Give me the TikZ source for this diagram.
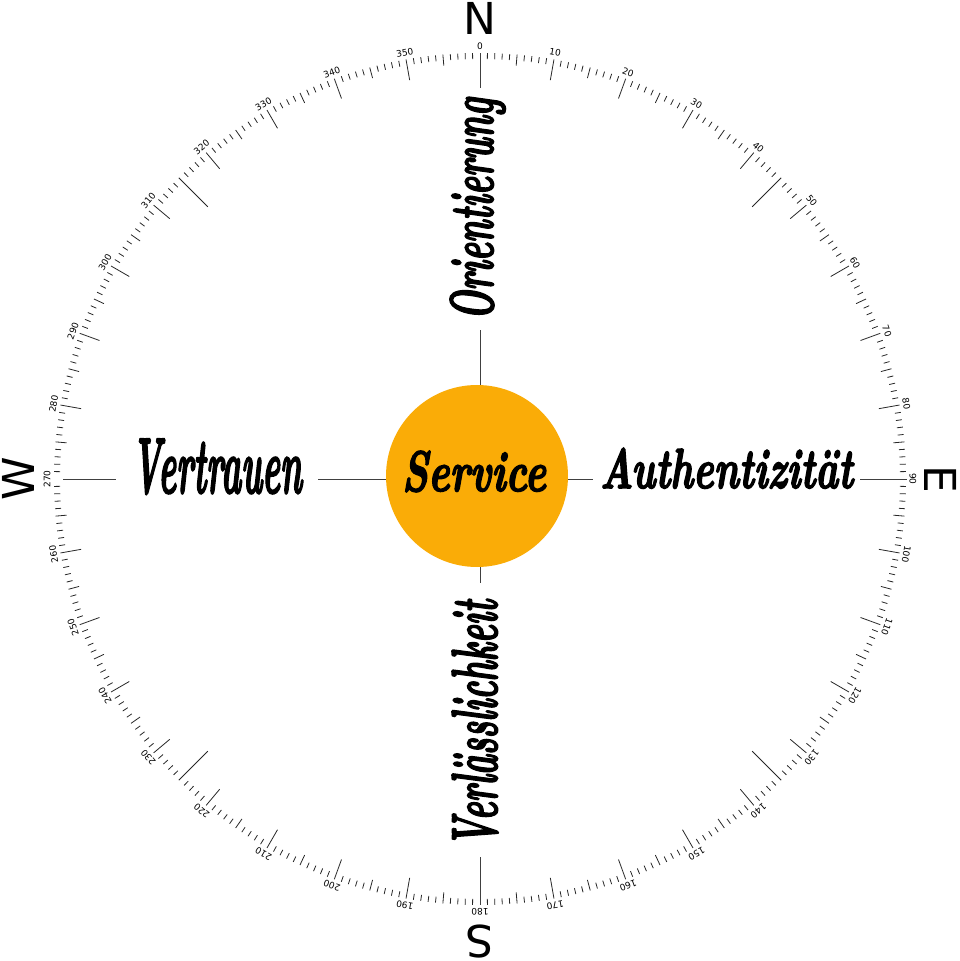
\documentclass[tikz,border=0pt]{standalone}
\usepackage{fontspec}
\usepackage{graphicx}
\newfontfamily\dejavu{DejaVu Sans}
\newfontfamily\scr[FakeBold=3]{Latin Modern Roman}
\definecolor{svcorange}{HTML}{FAAC07}
\begin{document}
\begin{tikzpicture}[x=1pt,y=1pt,
  conn/.style={draw=black!75, line width=0.9pt},
  tickline/.style={draw=black!85, line width=0.8pt},
  lbl/.style={inner ysep=0pt, anchor=base, font=\scr\bfseries\itshape},
  card/.style={font=\dejavu\fontsize{44}{44}\selectfont, inner sep=0pt},
  num/.style={font=\dejavu\fontsize{9}{9}\selectfont, inner sep=0pt}]
\useasboundingbox (-480,-482) rectangle (480,479);
\coordinate (c) at (0,0);
% ticks
\foreach \a in {0,...,359}{
  \pgfmathsetmacro\ri{mod(\a,90)==0 ? 426 : (mod(\a,45)==0 ? 385 : (mod(\a,10)==0 ? 405 : (mod(\a,5)==0 ? 415 : 420)))}
  \draw[tickline] ({90-\a}:\ri) -- ({90-\a}:426);
}
% numbers
\foreach \a in {0,10,...,350}{
  \node[num, rotate=-\a] (deg\a) at ({90-\a}:433) {\a};
}
% cardinal letters
\node[card] (N) at (90:461) {N};
\node[card, rotate=-90] (E) at (0:461) {E};
\node[card, rotate=180] (S) at (-90:463) {S};
\node[card, rotate=90] (W) at (180:462) {W};
% rim points
\coordinate (rN) at (0,426);
\coordinate (rS) at (0,-426);
\coordinate (rE) at (427,0);
\coordinate (rW) at (-417,0);
% centre
\node[circle, fill=svcorange, minimum size=182pt, inner sep=0pt] (svc) at (-3,3) {};
\node[lbl, inner xsep=0pt] (svct) at (-6,-12) {\resizebox{144pt}{40pt}{Service}};
% labels
\node[lbl, rotate=90, inner xsep=10pt] (ori) at (13,270) {\resizebox{222pt}{43pt}{Orientierung}};
\node[lbl, rotate=90, inner xsep=10pt] (ver) at (17,-244.5) {\resizebox{247pt}{45pt}{Verlässlichkeit}};
\node[lbl, inner xsep=16pt] (vtr) at (-263,-14) {\resizebox{170pt}{54pt}{Vertrauen}};
\node[lbl, inner xsep=7pt] (aut) at (246.5,-9) {\resizebox{253pt}{40pt}{Authentizität}};
% connectors
\draw[conn] (c |- svc.north) -- (c |- ori.west);
\draw[conn] (c |- ori.east) -- (rN);
\draw[conn, shorten >=7pt] (c |- svc.south) -- (c |- ver.east);
\draw[conn] (c |- ver.west) -- (rS);
\draw[conn] (c -| svc.east) -- (c -| aut.west);
\draw[conn] (c -| aut.east) -- (rE);
\draw[conn] (c -| svc.west) -- (c -| vtr.east);
\draw[conn] (c -| vtr.west) -- (rW);
\end{tikzpicture}
\end{document}
